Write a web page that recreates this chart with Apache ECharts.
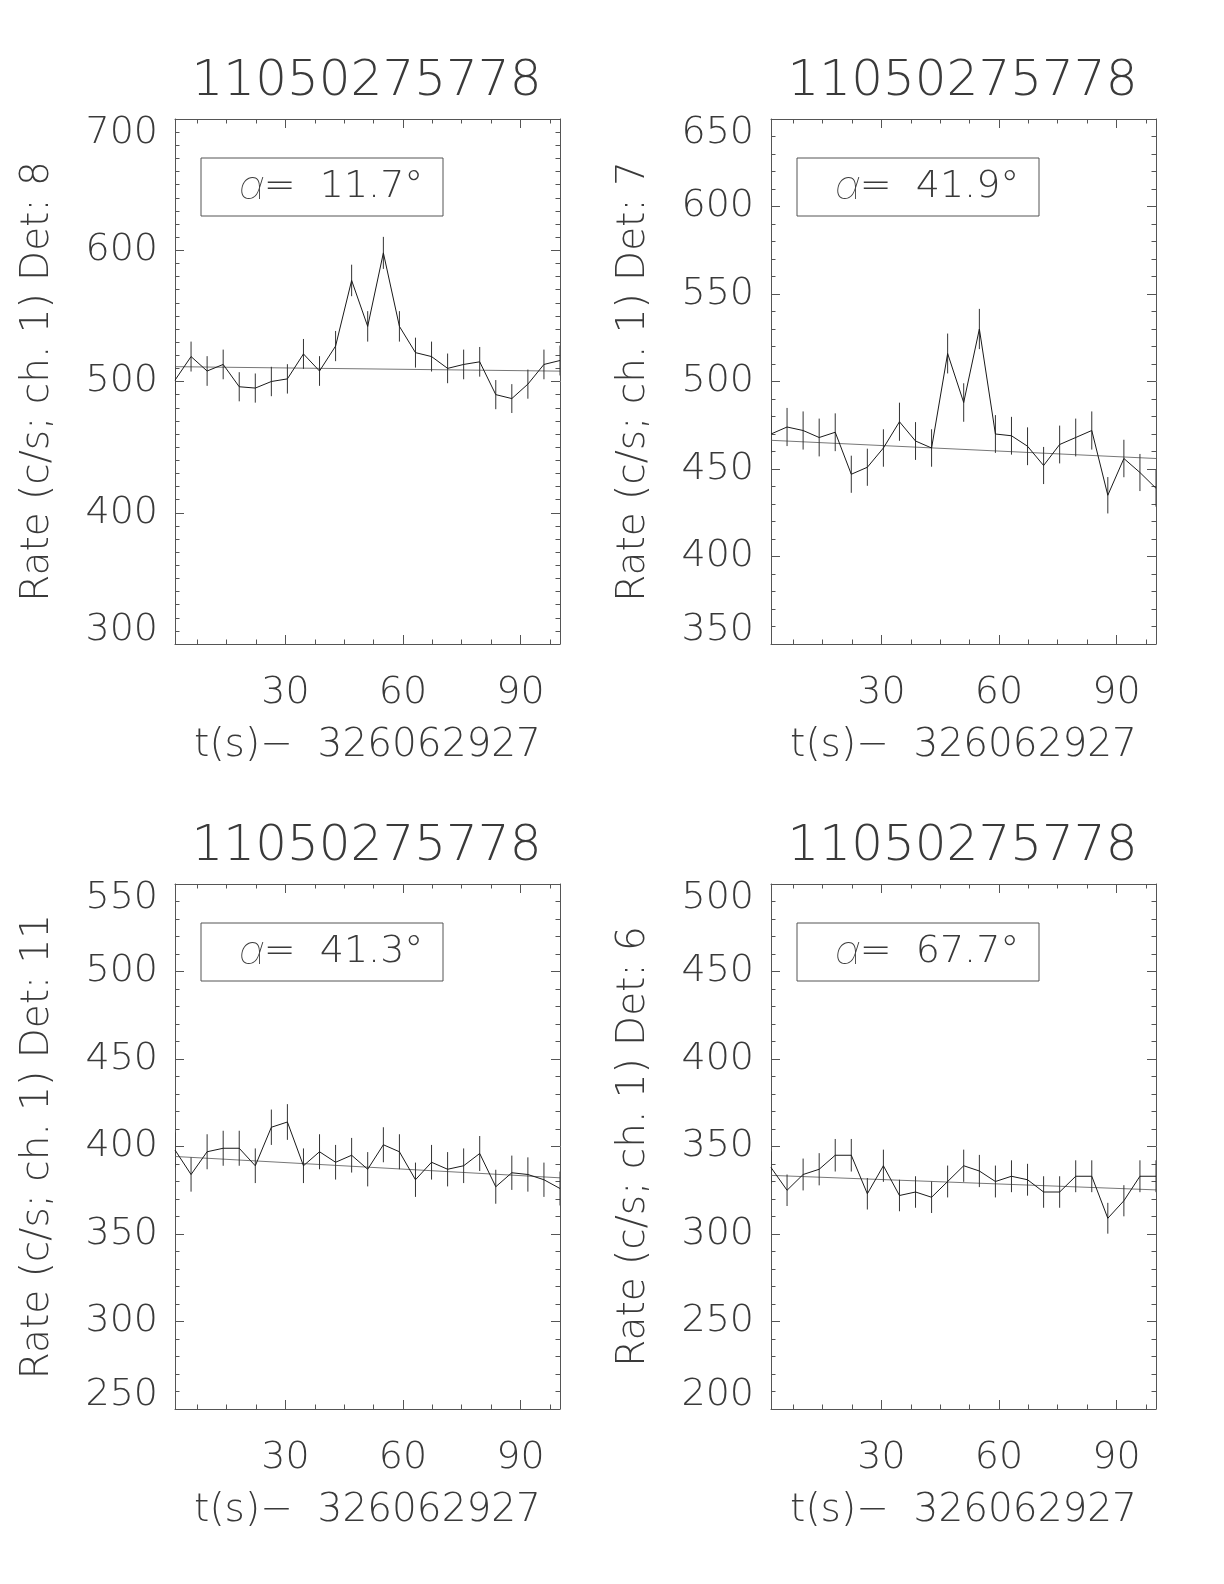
<!DOCTYPE html>
<html>
<head>
<meta charset="utf-8">
<script src="https://cdn.jsdelivr.net/npm/echarts@6/dist/echarts.min.js"></script>
<style>
html,body{margin:0;padding:0;background:#fff;}
#chart{width:1224px;height:1584px;}
</style>
</head>
<body>
<div id="chart"></div>
<script>
// ---- data ----
const tSec = [1.8, 5.9, 10.0, 14.1, 18.2, 22.3, 26.4, 30.5, 34.6, 38.7, 42.8, 46.9, 51.0, 55.0, 59.1, 63.2, 67.3, 71.4, 75.5, 79.6, 83.7, 87.8, 91.9, 96.0, 100.1];

const rateDet8 = [501, 519, 508, 513, 496, 495, 500, 502, 521, 508, 527, 577, 542, 598, 542, 522, 519, 510, 513, 515, 490, 487, 498, 513, 516];
const errDet8  = [11.2, 11.4, 11.3, 11.3, 11.1, 11.1, 11.2, 11.2, 11.4, 11.3, 11.5, 12.0, 11.6, 12.2, 11.6, 11.4, 11.4, 11.3, 11.3, 11.3, 11.1, 11.0, 11.1, 11.3, 11.4];
const fitDet8  = [511.3, 507.9];

const rateDet7 = [470, 474, 472, 468, 471, 447, 451, 462, 477, 466, 462, 516, 488, 530, 470, 469, 463, 452, 464, 468, 472, 435, 456, 448, 439];
const errDet7  = [10.8, 10.9, 10.9, 10.8, 10.8, 10.6, 10.6, 10.7, 10.9, 10.8, 10.7, 11.4, 11.0, 11.5, 10.8, 10.8, 10.8, 10.6, 10.8, 10.8, 10.9, 10.4, 10.7, 10.6, 10.5];
const fitDet7  = [466.4, 456.0];

const rateDet11 = [398, 384, 397, 399, 399, 389, 411, 414, 389, 397, 391, 395, 387, 401, 397, 381, 391, 387, 389, 396, 377, 385, 384, 381, 376];
const errDet11  = [10.0, 9.8, 10.0, 10.0, 10.0, 9.9, 10.1, 10.2, 9.9, 10.0, 9.9, 9.9, 9.8, 10.0, 10.0, 9.8, 9.9, 9.8, 9.9, 10.0, 9.7, 9.8, 9.8, 9.8, 9.7];
const fitDet11  = [394.3, 382.1];

const rateDet6 = [338, 325, 334, 337, 345, 345, 323, 339, 322, 324, 321, 330, 339, 336, 330, 333, 331, 324, 324, 333, 333, 309, 319, 333, 333];
const errDet6  = [9.2, 9.0, 9.1, 9.2, 9.3, 9.3, 9.0, 9.2, 9.0, 9.0, 9.0, 9.1, 9.2, 9.2, 9.1, 9.1, 9.1, 9.0, 9.0, 9.1, 9.1, 8.8, 8.9, 9.1, 9.1];
const fitDet6  = [333.5, 325.2];

const panelTitles = ['11050275778', '11050275778', '11050275778', '11050275778'];
const yNames = ['Rate (c/s; ch. 1) Det: 8', 'Rate (c/s; ch. 1) Det: 7', 'Rate (c/s; ch. 1) Det: 11', 'Rate (c/s; ch. 1) Det: 6'];
const xName = 't(s)\u2212  326062927';
const alphaValues = ['11.7', '41.9', '41.3', '67.7'];

const yMins = [300, 350, 250, 200];
const yMaxs = [700, 650, 550, 500];
const yIntervals = [100, 50, 50, 50];
const yMinorSplits = [10, 5, 5, 5];

const xMin = 1.8, xMax = 100.1;
const xMajorTicks = [30, 60, 90];
const xMinorTicks = [7.5, 15, 22.5, 37.5, 45, 52.5, 67.5, 75, 82.5, 97.5];

const rates = [rateDet8, rateDet7, rateDet11, rateDet6];
const errs = [errDet8, errDet7, errDet11, errDet6];
const fits = [fitDet8, fitDet7, fitDet11, fitDet6];

// ---- layout / style ----
const FONT = '"DejaVu Sans", sans-serif';
const FW = 200;
const TXT = '#3a3a3a';
const AX = '#555';
const panels = [
  {left: 175, top: 119},
  {left: 771, top: 119},
  {left: 175, top: 884},
  {left: 771, top: 884}
];
const PW = 385, PH = 525;

const grids = [], xAxes = [], yAxes = [], series = [], graphics = [];

panels.forEach((p, g) => {
  grids.push({left: p.left, top: p.top, width: PW, height: PH, containLabel: false});

  const xb = {type: 'value', gridIndex: g, min: xMin, max: xMax, splitLine: {show: false}};
  xAxes.push(Object.assign({}, xb, {
    position: 'bottom',
    axisLine: {show: true, onZero: false, lineStyle: {color: AX, width: 1}},
    axisTick: {show: true, inside: true, length: 9, customValues: xMajorTicks, lineStyle: {color: AX}},
    axisLabel: {show: true, customValues: xMajorTicks, fontSize: 38, fontFamily: FONT, fontWeight: FW, color: TXT, margin: 34, lineHeight: 30},
    name: xName, nameLocation: 'middle', nameGap: 87,
    nameTextStyle: {fontSize: 39, fontFamily: FONT, fontWeight: FW, color: TXT, lineHeight: 30}
  }));
  xAxes.push(Object.assign({}, xb, {
    position: 'bottom',
    axisLine: {show: false, onZero: false},
    axisTick: {show: true, inside: true, length: 4.5, customValues: xMinorTicks, lineStyle: {color: AX}},
    axisLabel: {show: false}
  }));
  xAxes.push(Object.assign({}, xb, {
    position: 'top',
    axisLine: {show: true, onZero: false, lineStyle: {color: AX, width: 1}},
    axisTick: {show: true, inside: true, length: 9, customValues: xMajorTicks, lineStyle: {color: AX}},
    axisLabel: {show: false}
  }));
  xAxes.push(Object.assign({}, xb, {
    position: 'top',
    axisLine: {show: false, onZero: false},
    axisTick: {show: true, inside: true, length: 4.5, customValues: xMinorTicks, lineStyle: {color: AX}},
    axisLabel: {show: false}
  }));

  const yb = {type: 'value', gridIndex: g, min: yMins[g], max: yMaxs[g], interval: yIntervals[g], splitLine: {show: false}};
  yAxes.push(Object.assign({}, yb, {
    position: 'left',
    axisLine: {show: true, onZero: false, lineStyle: {color: AX, width: 1}},
    axisTick: {show: true, inside: true, length: 9, lineStyle: {color: AX}},
    minorTick: {show: true, splitNumber: yMinorSplits[g], length: 4.5, lineStyle: {color: AX}},
    axisLabel: {show: true, fontSize: 38, fontFamily: FONT, fontWeight: FW, color: TXT, margin: 17, lineHeight: 28,
      verticalAlignMinLabel: 'bottom', verticalAlignMaxLabel: 'top'},
    name: yNames[g], nameLocation: 'middle', nameGap: 122,
    nameTextStyle: {fontSize: 39, fontFamily: FONT, fontWeight: FW, color: TXT, lineHeight: 30}
  }));
  yAxes.push(Object.assign({}, yb, {
    position: 'right',
    axisLine: {show: true, onZero: false, lineStyle: {color: AX, width: 1}},
    axisTick: {show: true, inside: true, length: 9, lineStyle: {color: AX}},
    minorTick: {show: true, splitNumber: yMinorSplits[g], length: 4.5, lineStyle: {color: AX}},
    axisLabel: {show: false}
  }));

  const xi = g * 4, yi = g * 2;
  const rate = rates[g], err = errs[g], fit = fits[g];

  // background fit
  series.push({
    type: 'line', xAxisIndex: xi, yAxisIndex: yi, silent: true, clip: true,
    showSymbol: false, symbol: 'none',
    lineStyle: {color: '#777', width: 1},
    data: [[tSec[0], fit[0]], [tSec[tSec.length - 1], fit[1]]],
    z: 2
  });
  // light curve
  series.push({
    type: 'line', xAxisIndex: xi, yAxisIndex: yi, silent: true, clip: true,
    showSymbol: false, symbol: 'none',
    lineStyle: {color: '#1a1a1a', width: 1},
    data: tSec.map((t, i) => [t, rate[i]]),
    z: 3
  });
  // error bars
  series.push({
    type: 'custom', xAxisIndex: xi, yAxisIndex: yi, silent: true, clip: true,
    data: tSec.map((t, i) => [t, rate[i], err[i]]),
    encode: {x: 0, y: 1},
    renderItem: function (params, api) {
      const x = api.value(0), y = api.value(1), e = api.value(2);
      const a = api.coord([x, y - e]), b = api.coord([x, y + e]);
      return {type: 'line', shape: {x1: a[0], y1: a[1], x2: b[0], y2: b[1]},
        style: {stroke: '#333', lineWidth: 1}};
    },
    z: 3
  });

  // panel title
  graphics.push({
    type: 'text', x: p.left + PW / 2 - 1, y: p.top - 37,
    style: {text: panelTitles[g], fontSize: 50, fontFamily: FONT, fontWeight: FW, fill: TXT,
      align: 'center', verticalAlign: 'middle'}
  });
  // alpha box
  graphics.push({
    type: 'rect', shape: {x: p.left + 26, y: p.top + 39, width: 242, height: 58},
    style: {fill: 'none', stroke: AX, lineWidth: 1}
  });
  graphics.push({
    type: 'text', x: p.left + 64, y: p.top + 68,
    style: {text: '{a|\u03b1}=  ' + alphaValues[g] + '\u00b0',
      fontSize: 38, fontFamily: FONT, fontWeight: FW, fill: TXT,
      align: 'left', verticalAlign: 'middle',
      rich: {a: {fontSize: 40, fontFamily: 'Inter, "Noto Sans", sans-serif', fontWeight: 100, fontStyle: 'italic', fill: TXT}}}
  });
});

const chart = echarts.init(document.getElementById('chart'), null, {renderer: 'canvas'});
chart.setOption({
  backgroundColor: '#ffffff',
  animation: false,
  textStyle: {fontFamily: FONT},
  grid: grids,
  xAxis: xAxes,
  yAxis: yAxes,
  series: series,
  graphic: graphics
});
</script>
</body>
</html>
